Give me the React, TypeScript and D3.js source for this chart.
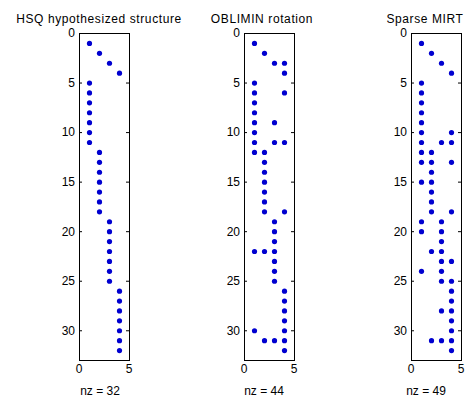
import * as d3 from 'd3';
import React, { useRef, useEffect } from 'react';

// --------------------------------------------------------
// sparsity patterns: for each row (item 1..32), the columns (factors) that are non-zero
// --------------------------------------------------------
const hsqRows: number[][] = [
  [1], [2], [3], [4],
  [1], [1], [1], [1], [1], [1], [1],
  [2], [2], [2], [2], [2], [2], [2],
  [3], [3], [3], [3], [3], [3], [3],
  [4], [4], [4], [4], [4], [4], [4],
];

const obliminRows: number[][] = [
  [1], [2], [3, 4], [4], [1], [1, 4], [1], [1], [1, 3], [1], [1, 3, 4], [1, 2],
  [2], [2], [2], [2], [2], [2, 4],
  [3], [3], [3], [1, 2, 3], [3], [3], [3],
  [4], [4], [4], [4], [1, 4], [2, 3, 4], [4],
];

const sparseRows: number[][] = [
  [1], [2], [3], [4], [1], [1], [1], [1], [1], [1, 4], [1, 3, 4], [1, 2],
  [1, 2, 4], [2], [1, 2], [2], [2], [2, 4],
  [1, 3], [1, 3], [3], [2, 3], [3, 4], [1, 3], [3, 4],
  [4], [4], [3, 4], [4], [4], [2, 3, 4], [4],
];

const panelTitles = ['HSQ hypothesized structure', 'OBLIMIN rotation', 'Sparse MIRT'];
const panelRows = [hsqRows, obliminRows, sparseRows];
const yTicks = [0, 5, 10, 15, 20, 25, 30];
const xTicks = [0, 5];

const nRows = 32;
const nCols = 4;

// layout (pixels)
const W = 465, H = 400;
const panelLeft = [79, 244, 411];
const titleX = [99, 262, 425];
const labelX = [100, 264, 426];
const top = 33, pw = 50, ph = 327;
const font = 'Liberation Sans, Arial, sans-serif';

function App() {
  const svgRef = useRef<SVGSVGElement>(null);

  useEffect(() => {
    const svg = d3.select(svgRef.current);
    svg.selectAll('*').remove();

    svg.append('rect').attr('width', W).attr('height', H).attr('fill', '#fff');

    panelRows.forEach((rows, p) => {
      const x = d3.scaleLinear([0, nCols + 1], [panelLeft[p], panelLeft[p] + pw]);
      const y = d3.scaleLinear([0, nRows + 1], [top, top + ph]);

      // flatten rows into (row, col) points
      const pts = rows.flatMap((cols, i) => cols.map(c => ({ r: i + 1, c })));

      const g = svg.append('g');

      // inward ticks on both sides (MATLAB box on)
      const tickLen = 3;
      g.append('g')
        .attr('transform', `translate(${panelLeft[p]},0)`)
        .call(d3.axisRight(y).tickValues(yTicks).tickSize(tickLen).tickFormat(() => ''))
        .call(a => a.select('.domain').remove());
      g.append('g')
        .attr('transform', `translate(${panelLeft[p] + pw},0)`)
        .call(d3.axisLeft(y).tickValues(yTicks).tickSize(tickLen).tickFormat(() => ''))
        .call(a => a.select('.domain').remove());

      // y tick labels
      g.selectAll('text.ylab')
        .data(yTicks)
        .join('text')
        .attr('class', 'ylab')
        .attr('x', panelLeft[p] - 4)
        .attr('y', d => y(d))
        .attr('dy', '0.36em')
        .attr('text-anchor', 'end')
        .attr('font-family', font)
        .attr('font-size', 12)
        .text(d => d);

      // x tick labels
      g.selectAll('text.xlab')
        .data(xTicks)
        .join('text')
        .attr('class', 'xlab')
        .attr('x', d => x(d))
        .attr('y', top + ph + 13)
        .attr('text-anchor', 'middle')
        .attr('font-family', font)
        .attr('font-size', 12)
        .text(d => d);

      // box
      g.append('rect')
        .attr('x', panelLeft[p] + 0.5)
        .attr('y', top + 0.5)
        .attr('width', pw)
        .attr('height', ph)
        .attr('fill', 'none')
        .attr('stroke', '#000')
        .attr('stroke-width', 1);

      // non-zero markers
      g.selectAll('circle')
        .data(pts)
        .join('circle')
        .attr('cx', d => x(d.c) + 0.5)
        .attr('cy', d => y(d.r) + 0.5)
        .attr('r', 2.6)
        .attr('fill', '#0000d0');

      // title and nz label
      g.append('text')
        .attr('x', titleX[p])
        .attr('y', 23)
        .attr('text-anchor', 'middle')
        .attr('font-family', font)
        .attr('font-size', 12)
        .attr('letter-spacing', 0.6)
        .text(panelTitles[p]);

      g.append('text')
        .attr('x', labelX[p])
        .attr('y', 395)
        .attr('text-anchor', 'middle')
        .attr('font-family', font)
        .attr('font-size', 12)
        .text(`nz = ${pts.length}`);
    });
  });

  return (
    <svg
      ref={svgRef}
      width={W}
      height={H}
      style={{ position: 'absolute', left: 0, top: 0, display: 'block' }}
    />
  );
}

export default App;
